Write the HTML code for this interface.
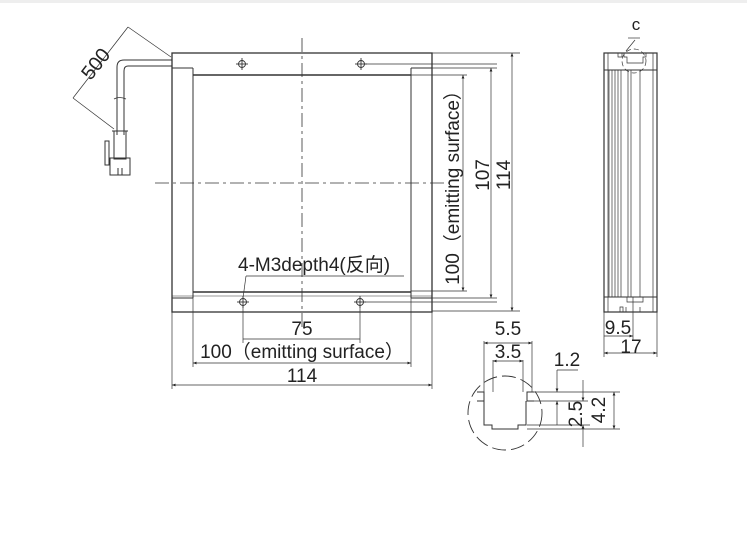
<!DOCTYPE html>
<html><head><meta charset="utf-8"><style>
html,body{margin:0;padding:0;background:#fff}
svg{display:block}
text{font-family:"Liberation Sans","Noto Sans CJK SC",sans-serif;fill:#222}
</style></head><body>
<svg width="747" height="538" viewBox="0 0 747 538" xmlns="http://www.w3.org/2000/svg">
<defs>
<marker id="a" viewBox="0 0 10 10" refX="10" refY="5" markerWidth="7" markerHeight="5" orient="auto-start-reverse"><path d="M0,1 L10,5 L0,9 z" fill="#222"/></marker>
</defs>
<rect x="0" y="0" width="747" height="3" fill="#eee"/>
<g stroke="#333" stroke-width="1" fill="none">
<rect x="172" y="53" width="260" height="259" stroke-width="1.3"/>
<line x1="172" y1="68" x2="193" y2="68"/><line x1="411" y1="68" x2="432" y2="68"/>
<line x1="193" y1="68" x2="193" y2="298"/><line x1="411" y1="68" x2="411" y2="298"/>
<line x1="193" y1="75" x2="411" y2="75" stroke-width="1.4"/>
<line x1="193" y1="292" x2="411" y2="292" stroke-width="1.4"/>
<line x1="172" y1="298" x2="193" y2="298"/><line x1="411" y1="298" x2="432" y2="298"/>
<line x1="172" y1="296" x2="432" y2="296" stroke-width="0.6"/>
<line x1="302" y1="38" x2="302" y2="330" stroke-dasharray="14,4,3,4" stroke-width="0.8"/>
<line x1="155" y1="183" x2="450" y2="183" stroke-dasharray="14,4,3,4" stroke-width="0.8"/>
<g stroke-width="0.9">
<circle cx="242" cy="64" r="3.5"/><line x1="236" y1="64" x2="248" y2="64"/><line x1="242" y1="58" x2="242" y2="70"/>
<circle cx="361" cy="64" r="3.5"/><line x1="355" y1="64" x2="367" y2="64"/><line x1="361" y1="58" x2="361" y2="70"/>
<circle cx="243" cy="302" r="3.5"/><line x1="237" y1="302" x2="249" y2="302"/><line x1="243" y1="296" x2="243" y2="308"/>
<circle cx="360" cy="302" r="3.5"/><line x1="354" y1="302" x2="366" y2="302"/><line x1="360" y1="296" x2="360" y2="308"/>
</g>
<line x1="365" y1="64" x2="497" y2="64" stroke-width="0.7"/>
<line x1="365" y1="302" x2="497" y2="302" stroke-width="0.7"/>
<line x1="243" y1="298" x2="246" y2="276" stroke-width="0.7"/>
<line x1="246" y1="276" x2="404" y2="276" stroke-width="0.7"/>
<g stroke-width="0.7">
<line x1="243" y1="306" x2="243" y2="343"/><line x1="360" y1="306" x2="360" y2="343"/>
<line x1="243" y1="339" x2="360" y2="339"/>
<line x1="193" y1="298" x2="193" y2="367"/><line x1="411" y1="298" x2="411" y2="367"/>
<line x1="193" y1="363" x2="411" y2="363" marker-start="url(#a)" marker-end="url(#a)"/>
<line x1="172" y1="312" x2="172" y2="389"/><line x1="432" y1="312" x2="432" y2="389"/>
<line x1="172" y1="385" x2="432" y2="385" marker-start="url(#a)" marker-end="url(#a)"/>
<line x1="432" y1="53" x2="520" y2="53"/><line x1="432" y1="311" x2="520" y2="311"/>
<line x1="411" y1="68" x2="497" y2="68"/><line x1="411" y1="298" x2="497" y2="298"/>
<line x1="411" y1="75" x2="467" y2="75"/><line x1="411" y1="291" x2="467" y2="291"/>
<line x1="463" y1="75" x2="463" y2="291" marker-start="url(#a)" marker-end="url(#a)"/>
<line x1="491" y1="68" x2="491" y2="298" marker-start="url(#a)" marker-end="url(#a)"/>
<line x1="512" y1="53" x2="512" y2="311" marker-start="url(#a)" marker-end="url(#a)"/>
</g>
<path d="M172,60 H124 Q117,60 117,67 V135"/>
<path d="M172,66 H128 Q124,66 124,71 V135"/>
<path d="M114,99 Q119,96 126,99" stroke-width="0.8"/>
<rect x="114" y="131" width="12" height="28"/>
<line x1="112" y1="131" x2="128" y2="131"/>
<rect x="110" y="158" width="20" height="17"/>
<rect x="105" y="141" width="4" height="24"/>
<line x1="118" y1="168" x2="118" y2="175"/><line x1="122" y1="168" x2="122" y2="175"/>
<g stroke-width="0.7">
<line x1="128" y1="27" x2="171" y2="57"/>
<line x1="73" y1="98" x2="114" y2="129"/>
<line x1="128" y1="27" x2="73" y2="98"/>
</g>
<rect x="604" y="53" width="53" height="259" stroke-width="1.2"/>
<line x1="604" y1="70" x2="657" y2="70"/><line x1="604" y1="297" x2="657" y2="297"/>
<g stroke-width="0.7">
<line x1="609" y1="70" x2="609" y2="297"/><line x1="612" y1="70" x2="612" y2="297"/>
<line x1="615" y1="70" x2="615" y2="297"/><line x1="618" y1="70" x2="618" y2="297"/>
<line x1="621" y1="70" x2="621" y2="297"/><line x1="628" y1="70" x2="628" y2="297"/>
<line x1="631" y1="70" x2="631" y2="297"/><line x1="640" y1="70" x2="640" y2="297"/>
<line x1="653" y1="53" x2="653" y2="312"/><line x1="608" y1="53" x2="608" y2="312"/>
<path d="M618,53 v4 h4 v-4 M624,53 v4 h3 v6 h16 v-6 h3 v-4"/>
<path d="M620,312 v-5 h3 v5 M626,312 v-5 M640,312 v-5 M627,297 v5 h16 v-5"/>
<circle cx="634" cy="61" r="12" stroke-dasharray="5,3"/>
<line x1="626" y1="51" x2="635" y2="40"/><line x1="628" y1="38" x2="640" y2="38"/>
<line x1="604" y1="312" x2="604" y2="357"/><line x1="657" y1="312" x2="657" y2="357"/>
<line x1="633" y1="297" x2="633" y2="340"/>
<line x1="604" y1="336" x2="633" y2="336" marker-end="url(#a)"/>
<line x1="604" y1="353" x2="657" y2="353" marker-start="url(#a)" marker-end="url(#a)"/>
</g>
<circle cx="505" cy="413" r="37" stroke-dasharray="14,5" stroke-width="0.9"/>
<path d="M477,392 h7 v9 h-7 M534,392 h-7 v9 h7"/>
<path d="M484,401 v24 h8 v4 h26 v-4 h8 v-24"/>
<line x1="484" y1="392" x2="484" y2="341" stroke-width="0.7"/>
<line x1="532" y1="392" x2="532" y2="341" stroke-width="0.7"/>
<line x1="493" y1="360" x2="493" y2="392" stroke-width="0.7"/>
<line x1="523" y1="360" x2="523" y2="392" stroke-width="0.7"/>
<g stroke-width="0.7">
<line x1="484" y1="343" x2="532" y2="343" marker-start="url(#a)" marker-end="url(#a)"/>
<line x1="493" y1="361" x2="523" y2="361" marker-start="url(#a)" marker-end="url(#a)"/>
<line x1="534" y1="392" x2="620" y2="392"/><line x1="534" y1="401" x2="588" y2="401"/>
<line x1="527" y1="425" x2="590" y2="425"/><line x1="527" y1="429" x2="620" y2="429"/>
<line x1="557" y1="370" x2="557" y2="392" marker-end="url(#a)"/>
<line x1="557" y1="370" x2="578" y2="370"/>
<line x1="557" y1="425" x2="557" y2="401" marker-end="url(#a)"/>
<line x1="583" y1="380" x2="583" y2="401" marker-end="url(#a)"/>
<line x1="583" y1="447" x2="583" y2="425" marker-end="url(#a)"/>
<line x1="614" y1="392" x2="614" y2="429" marker-start="url(#a)" marker-end="url(#a)"/>
</g>
</g>
<text x="101" y="68" font-size="20" text-anchor="middle" transform="rotate(-52 101 68)">500</text>
<text x="238" y="271" font-size="19">4-M3depth4(反向)</text>
<text x="302" y="335" font-size="19" text-anchor="middle">75</text>
<text x="302" y="358" font-size="19" text-anchor="middle">100（emitting surface）</text>
<text x="302" y="382" font-size="19" text-anchor="middle">114</text>
<text x="459" y="183" font-size="19" text-anchor="middle" transform="rotate(-90 459 183)">100（emitting surface）</text>
<text x="489" y="175" font-size="19" text-anchor="middle" transform="rotate(-90 489 175)">107</text>
<text x="510" y="175" font-size="19" text-anchor="middle" transform="rotate(-90 510 175)">114</text>
<text x="636" y="30" font-size="17" text-anchor="middle">c</text>
<text x="618" y="334" font-size="19" text-anchor="middle">9.5</text>
<text x="631" y="353" font-size="19" text-anchor="middle">17</text>
<text x="508" y="335" font-size="19" text-anchor="middle">5.5</text>
<text x="508" y="358" font-size="19" text-anchor="middle">3.5</text>
<text x="567" y="366" font-size="19" text-anchor="middle">1.2</text>
<text x="582" y="414" font-size="19" text-anchor="middle" transform="rotate(-90 582 414)">2.5</text>
<text x="605" y="410" font-size="19" text-anchor="middle" transform="rotate(-90 605 410)">4.2</text>
</svg>
</body></html>
